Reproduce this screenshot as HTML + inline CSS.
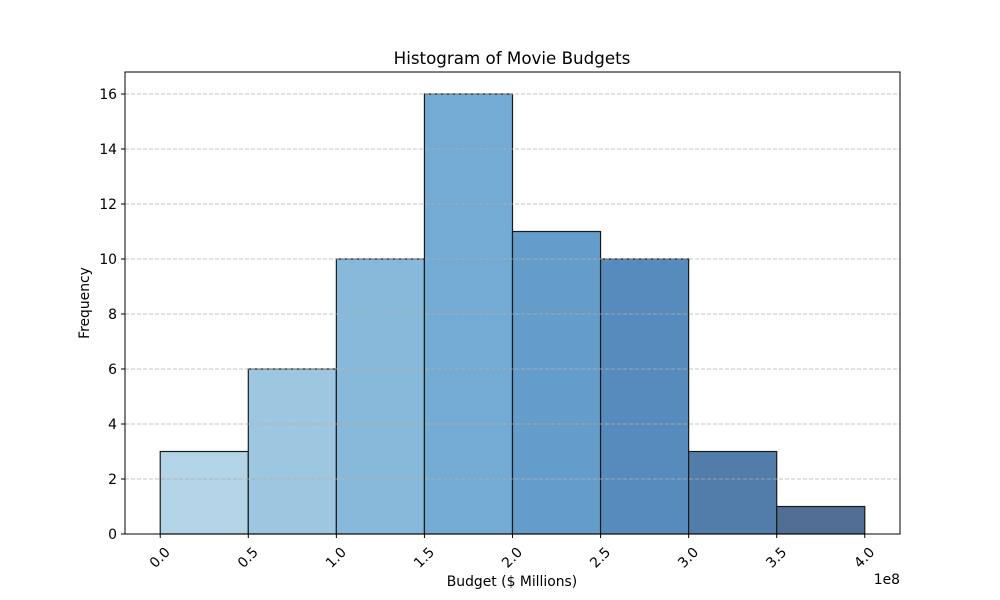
<!DOCTYPE html>
<html><head><meta charset="utf-8"><style>body{margin:0;background:#fff}svg{display:block;font-family:"DejaVu Sans","Liberation Sans",sans-serif}</style></head>
<body>
<svg id="chart" width="1000" height="600" xmlns="http://www.w3.org/2000/svg">
<text x="512" y="64" text-anchor="middle" font-size="16.7">Histogram of Movie Budgets</text>
<g id="bars"></g><g id="grid"></g><g id="ticks"></g>
<rect x="125" y="72" width="775" height="462" fill="none" stroke="#000" stroke-width="1"/>
<text x="512" y="586" text-anchor="middle" font-size="13.9">Budget ($ Millions)</text>
<text transform="translate(89,303) rotate(-90)" text-anchor="middle" font-size="13.9">Frequency</text>
<text x="900" y="584" text-anchor="end" font-size="13.9">1e8</text>
</svg>
<script>
const binEdges=[0,0.5,1.0,1.5,2.0,2.5,3.0,3.5,4.0];
const counts=[3,6,10,16,11,10,3,1];
const colors=["#b3d3e6","#9dc7e0","#86b9da","#74abd4","#649cca","#588bbd","#527dab","#506d94"];
const xTicks=["0.0","0.5","1.0","1.5","2.0","2.5","3.0","3.5","4.0"];
const yTicks=[0,2,4,6,8,10,12,14,16];
const NS="http://www.w3.org/2000/svg";
const L=125,R=900,T=72,B=534,xmin=-0.2,xmax=4.2,ymax=16.8;
const sx=v=>L+(v-xmin)/(xmax-xmin)*(R-L);
const sy=v=>B-v/ymax*(B-T);
function mk(tag,attrs,parent){const e=document.createElementNS(NS,tag);for(const k in attrs)e.setAttribute(k,attrs[k]);document.getElementById(parent).appendChild(e);return e;}
yTicks.forEach(v=>{
 if(v>0){const g=mk('line',{x1:L,x2:R,y1:sy(v),y2:sy(v),stroke:'#b0b0b0','stroke-opacity':0.75,'stroke-dasharray':'4,2','stroke-width':1},'grid');
 
 }
 const t=mk('line',{x1:L-4,x2:L,y1:sy(v),y2:sy(v),stroke:'#000'},'ticks');
 
 
 const l=mk('text',{x:L-8,y:sy(v)+5,'text-anchor':'end','font-size':13.9},'ticks');l.textContent=v;
 
 
});
counts.forEach((c,i)=>{
 const x0=sx(binEdges[i]),x1=sx(binEdges[i+1]);
 const r=mk('rect',{x:x0,y:sy(c),width:x1-x0,height:B-sy(c),fill:colors[i],stroke:'#1a1a1a','stroke-width':1.2},'bars');
 
 
});
xTicks.forEach(s=>{
 const x=sx(parseFloat(s));
 const t=mk('line',{x1:x,x2:x,y1:B,y2:B+4,stroke:'#000'},'ticks');
 
 
 const l=mk('text',{transform:`translate(${x},${B+24}) rotate(-45)`,'text-anchor':'middle','font-size':13.9,dy:'4'},'ticks');l.textContent=s;
 
 
});
</script>
</body></html>
